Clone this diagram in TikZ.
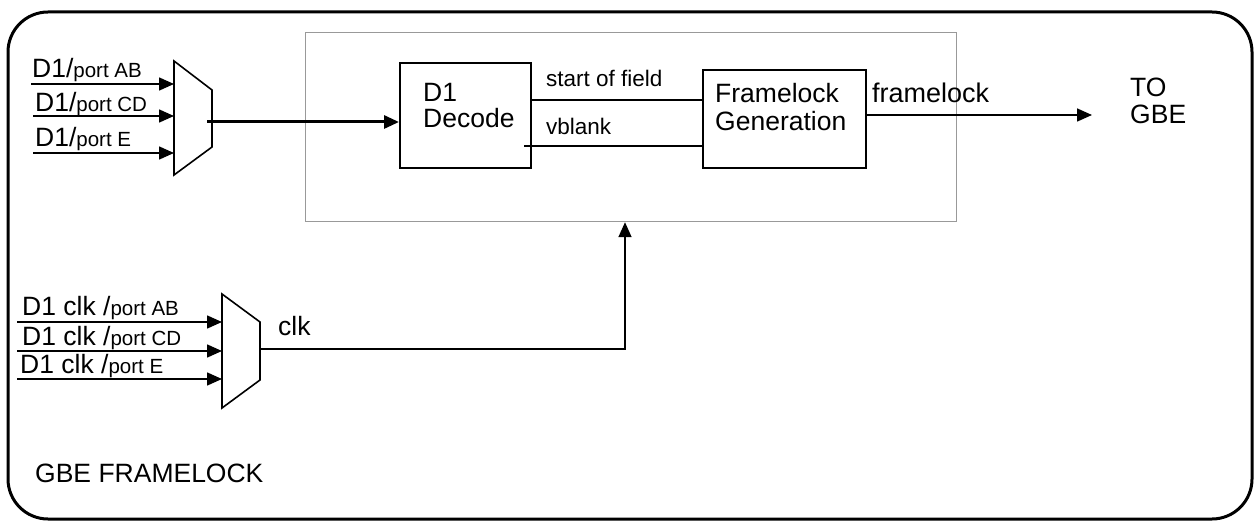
\documentclass[tikz,border=0pt]{standalone}
\usepackage{fontspec}
\setmainfont{Liberation Sans}
\usetikzlibrary{arrows.meta}
\newcommand{\bigf}{\fontsize{26.5}{29}\selectfont}
\newcommand{\smallf}{\fontsize{20.5}{23}\selectfont}
\newcommand{\midf}{\fontsize{22.5}{25}\selectfont}
\begin{document}
\begin{tikzpicture}[x=1pt,y=-1pt,
  wire/.style={line width=1.6pt},
  thickwire/.style={line width=3pt},
  arr/.style={-{Triangle[length=15pt,width=13pt]}},
  box/.style={draw, line width=1.6pt, inner sep=0pt},
  lbl/.style={inner sep=0pt, anchor=base west, font=\bigf},
  mux/.style={draw, line width=1.6pt, fill=white}]
\useasboundingbox (0,0) rectangle (1257,521);
% outer frame
\draw[line width=3pt, rounded corners=40pt] (8,12) rectangle (1252,519);
% inner gray box
\node[draw=black!40, line width=1.2pt, minimum width=651pt, minimum height=189pt, anchor=north west, inner sep=0pt] (core) at (305,32) {};
% D1 decode
\node[box, minimum width=131pt, minimum height=105pt, anchor=north west] (dec) at (399,62) {};
\node[lbl] (dectxt1) at (423,102) {D1};
\node[lbl] (dectxt2) at (423,128) {Decode};
% framelock generation
\node[box, minimum width=163pt, minimum height=98pt, anchor=north west] (flg) at (702,69) {};
\node[lbl] (flgtxt1) at (715,103) {Framelock};
\node[lbl] (flgtxt2) at (715,131) {Generation};
% internal signals
\coordinate (sofA) at (532,100);
\coordinate (vbA) at (524,146);
\draw[wire] (sofA) -- (sofA -| flg.west);
\draw[wire] (vbA) -- (vbA -| flg.west);
\node[lbl, font=\midf] (soflbl) at (546,87) {start of field};
\node[lbl, font=\midf] (vblbl) at (546,135) {vblank};
% framelock output
\coordinate (flout) at (865,115);
\coordinate (flend) at (1092,115);
\draw[wire, arr] (flout) -- (flend);
\node[lbl, font=\fontsize{27}{30}\selectfont] (fllbl) at (872,103) {framelock};
\node[lbl] (to1) at (1130,97) {TO};
\node[lbl] (to2) at (1130,124) {GBE};
% top mux
\draw[mux] (174,61) -- (212,90) -- (212,147) -- (174,175) -- cycle;
\coordinate (muxAout) at (207,122);
\draw[thickwire, arr] (muxAout) -- (muxAout -| dec.west);
\foreach \y/\s/\n in {84/31/1,116/33/2,153/33/3}{
  \coordinate (ai\n) at (\s,\y);
  \draw[wire, arr] (ai\n) -- (174,\y);
}
\node[lbl] (la1) at (32,78) {D1/{\smallf port AB}};
\node[lbl] (la2) at (35,112) {D1/{\smallf port CD}};
\node[lbl] (la3) at (35,147) {D1/{\smallf port E}};
% bottom mux
\draw[mux] (222,294) -- (260,322) -- (260,380) -- (222,408) -- cycle;
\coordinate (muxBout) at (260,349);
\coordinate (bend) at (625,349);
\draw[wire, arr] (muxBout) -- (bend) -- (bend |- core.south);
\foreach \y/\n in {322/1,351/2,379/3}{
  \coordinate (bi\n) at (17,\y);
  \draw[wire, arr] (bi\n) -- (222,\y);
}
\node[lbl] (lb1) at (22,315) {D1 clk /{\smallf port AB}};
\node[lbl] (lb2) at (22,345) {D1 clk /{\smallf port CD}};
\node[lbl] (lb3) at (20,373) {D1 clk /{\smallf port E}};
\node[lbl] (clklbl) at (278,335) {clk};
\node[lbl] (title) at (35,482) {GBE FRAMELOCK};
\end{tikzpicture}
\end{document}
